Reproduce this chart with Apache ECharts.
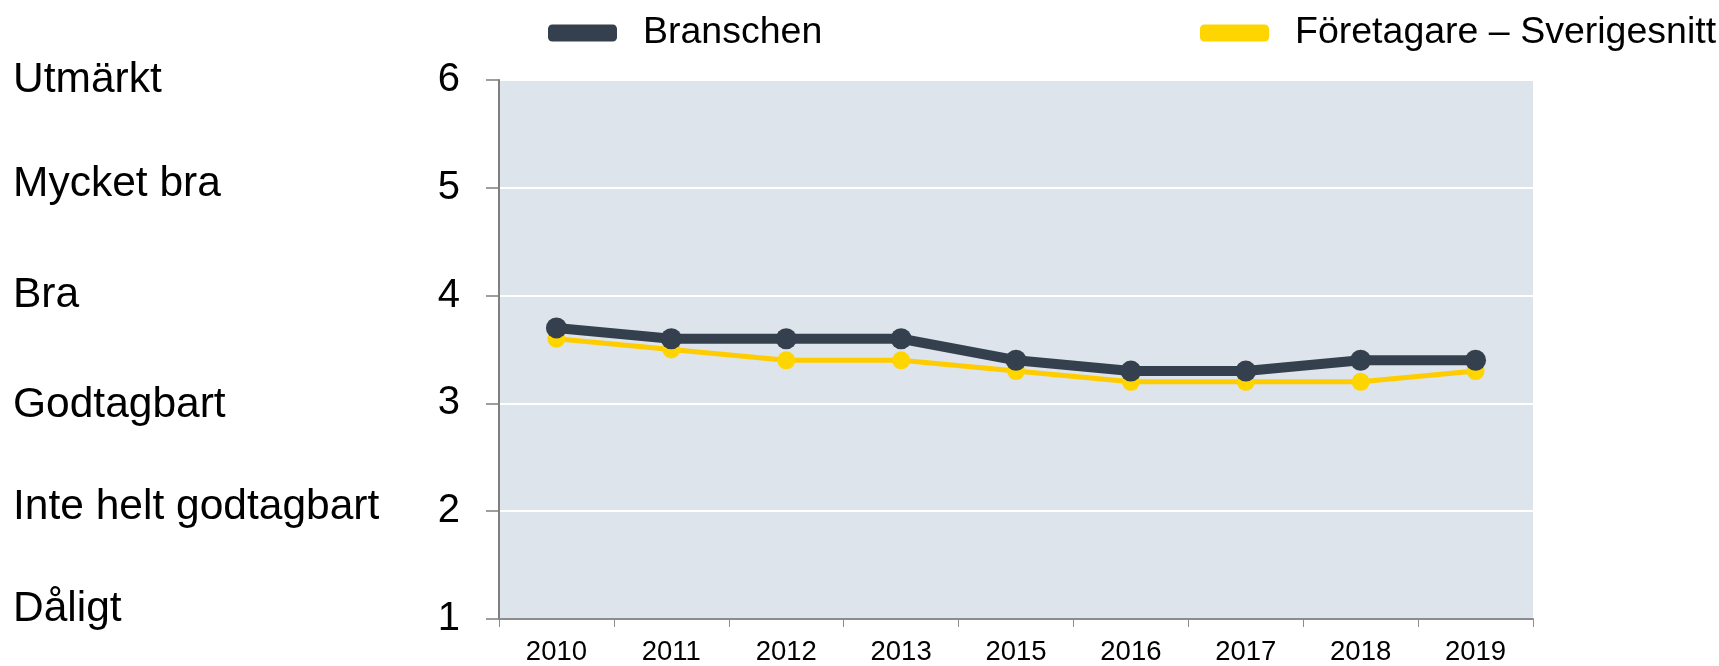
<!DOCTYPE html>
<html>
<head>
<meta charset="utf-8">
<script src="https://cdn.jsdelivr.net/npm/echarts@6/dist/echarts.min.js"></script>
<style>
html,body{margin:0;padding:0;background:#fff;}
#chart{width:1719px;height:666px;}
</style>
</head>
<body>
<div id="chart"></div>
<script>
const categories = ['2010','2011','2012','2013','2015','2016','2017','2018','2019'];
const branschen = [3.7, 3.6, 3.6, 3.6, 3.4, 3.3, 3.3, 3.4, 3.4];
const sverigesnitt = [3.6, 3.5, 3.4, 3.4, 3.3, 3.2, 3.2, 3.2, 3.3];
const seriesNames = ['Branschen', 'Företagare – Sverigesnitt'];
const scaleLabels = {1:'Dåligt', 2:'Inte helt godtagbart', 3:'Godtagbart', 4:'Bra', 5:'Mycket bra', 6:'Utmärkt'};

const FONT = "'Liberation Sans', Arial, sans-serif";
const legendBase = {
  top: 9,
  icon: 'roundRect',
  itemWidth: 69, itemHeight: 17,
  textStyle: {fontSize: 37.5, color: '#000', fontFamily: FONT, padding: [0,0,0,21]}
};
const chart = echarts.init(document.getElementById('chart'), null, {renderer:'canvas'});
chart.setOption({
  animation: false,
  textStyle: {fontFamily: FONT},
  legend: [
    Object.assign({}, legendBase, {data: [seriesNames[0]], left: 543}),
    Object.assign({}, legendBase, {data: [seriesNames[1]], left: 1195})
  ],
  grid: {
    left: 499, right: 186, top: 80, bottom: 43,
    show: true, backgroundColor: '#DDE4EB', borderWidth: 0
  },
  xAxis: {
    type: 'category',
    data: categories,
    boundaryGap: true,
    axisLine: {lineStyle: {color: '#8c8c8c', width: 2}},
    axisTick: {show: true, length: 8, lineStyle: {color: '#8c8c8c', width: 1}},
    axisLabel: {fontSize: 27.5, color: '#000', margin: 19, fontFamily: FONT},
    splitLine: {show: false}
  },
  yAxis: [{
    type: 'value', min: 1, max: 6, interval: 1,
    axisLine: {show: true, lineStyle: {color: '#7f7f7f', width: 2}},
    axisTick: {show: true, length: 13, lineStyle: {color: '#7f7f7f', width: 1.5}},
    axisLabel: {fontSize: 40, color: '#000', margin: 39, fontFamily: FONT},
    splitLine: {show: true, lineStyle: {color: '#ffffff', width: 2}}
  }, {
    type: 'value', min: 1, max: 6, interval: 1, position: 'left',
    axisLine: {show: false}, axisTick: {show: false}, splitLine: {show: false},
    axisLabel: {
      fontSize: 42.5, color: '#000', margin: 486, align: 'left', fontFamily: FONT,
      formatter: v => v === 1 ? '{d|' + scaleLabels[v] + '}' : (v === 2 || v === 5 ? '{u|' + scaleLabels[v] + '}' : (v === 3 ? '{g|' + scaleLabels[v] + '}' : (scaleLabels[v] || ''))),
      rich: {
        d: {fontSize: 42.5, color: '#000', fontFamily: FONT, padding: [0,0,20,0]},
        u: {fontSize: 42.5, color: '#000', fontFamily: FONT, padding: [0,0,8,0]},
        g: {fontSize: 42.5, color: '#000', fontFamily: FONT, padding: [4,0,0,0]}
      }
    }
  }],
  series: [{
    name: seriesNames[1], type: 'line', data: sverigesnitt,
    color: '#FFCC00',
    lineStyle: {width: 5, color: '#FFCC00'},
    itemStyle: {color: '#FFD500'},
    symbol: 'circle', symbolSize: 18, z: 2
  }, {
    name: seriesNames[0], type: 'line', data: branschen,
    color: '#34404D',
    lineStyle: {width: 10, color: '#34404D'},
    itemStyle: {color: '#34404D'},
    symbol: 'circle', symbolSize: 21, z: 3
  }]
});
</script>
</body>
</html>
